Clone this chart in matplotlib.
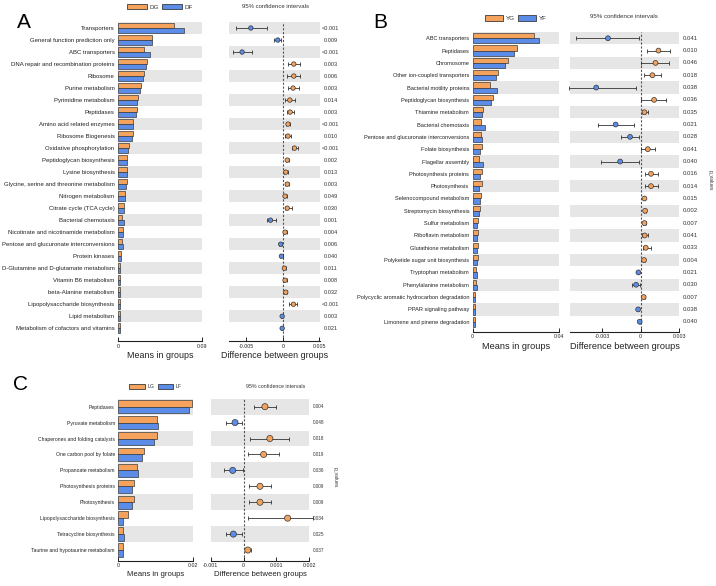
import matplotlib
matplotlib.use("Agg")
import matplotlib.pyplot as plt
import numpy as np
from matplotlib.transforms import blended_transform_factory
from matplotlib.patches import Patch

plt.rcParams['font.family'] = ['Liberation Sans', 'DejaVu Sans']

ORANGE = '#F5A25D'
BLUE = '#5B8DE8'
GRAY = '#E6E6E6'
EDGE = '#3a3a3a'

# ---------------- Panel A ----------------
catsA = ["Transporters", "General function prediction only", "ABC transporters",
         "DNA repair and recombination proteins", "Ribosome", "Purine metabolism",
         "Pyrimidine metabolism", "Peptidases", "Amino acid related enzymes",
         "Ribosome Biogenesis", "Oxidative phosphorylation", "Peptidoglycan biosynthesis",
         "Lysine biosynthesis", "Glycine, serine and threonine metabolism",
         "Nitrogen metabolism", "Citrate cycle (TCA cycle)", "Bacterial chemotaxis",
         "Nicotinate and nicotinamide metabolism", "Pentose and glucuronate interconversions",
         "Protein kinases", "D-Glutamine and D-glutamate metabolism", "Vitamin B6 metabolism",
         "beta-Alanine metabolism", "Lipopolysaccharide biosynthesis", "Lipid metabolism",
         "Metabolism of cofactors and vitamins"]
meanA_DG = [0.0603, 0.0361, 0.0282, 0.0314, 0.0279, 0.0250, 0.0214, 0.0207, 0.0164, 0.0164,
            0.0121, 0.0100, 0.0093, 0.0093, 0.0075, 0.0064, 0.0043, 0.0054, 0.0046, 0.0032,
            0.0021, 0.0021, 0.0021, 0.0025, 0.0018, 0.0018]
meanA_DF = [0.0707, 0.0368, 0.0340, 0.0300, 0.0265, 0.0236, 0.0207, 0.0196, 0.0157, 0.0154,
            0.0110, 0.0093, 0.0093, 0.0090, 0.0071, 0.0060, 0.0061, 0.0050, 0.0050, 0.0036,
            0.0021, 0.0021, 0.0021, 0.0018, 0.0018, 0.0018]
diffA = [-0.0044, -0.0007, -0.0056, 0.0015, 0.0015, 0.0014, 0.00095, 0.0010, 0.0007, 0.0007,
         0.0016, 0.0006, 0.0004, 0.0006, 0.0003, 0.0006, -0.0017, 0.0003, -0.0003, -0.0002,
         0.0002, 0.0003, 0.0004, 0.00145, -0.0001, -0.0001]
lowA = [-0.0065, -0.0012, -0.0068, 0.0007, 0.0006, 0.0007, 0.0003, 0.0005, 0.0004, 0.0003,
        0.0012, 0.0004, 0.0001, 0.0003, 0.0001, 0.0003, -0.0022, 0.0001, -0.0005, -0.0004,
        0.0000, 0.0001, 0.0002, 0.0009, -0.0002, -0.0002]
highA = [-0.0022, -0.0003, -0.0043, 0.0023, 0.0024, 0.0022, 0.0017, 0.0015, 0.0010, 0.0011,
         0.0021, 0.0008, 0.0007, 0.0009, 0.0005, 0.0012, -0.0009, 0.0005, -0.0001, 0.0000,
         0.0004, 0.0005, 0.0006, 0.0019, 0.0000, 0.0000]
pA = ["<0.001", "0.009", "<0.001", "0.003", "0.006", "0.003", "0.014", "0.003", "<0.001",
      "0.010", "<0.001", "0.002", "0.013", "0.003", "0.049", "0.030", "0.001", "0.004",
      "0.006", "0.040", "0.011", "0.008", "0.032", "<0.001", "0.003", "0.021"]

# ---------------- Panel B ----------------
catsB = ["ABC transporters", "Peptidases", "Chromosome", "Other ion-coupled transporters",
         "Bacterial motility proteins", "Peptidoglycan biosynthesis", "Thiamine metabolism",
         "Bacterial chemotaxis", "Pentose and glucuronate interconversions", "Folate biosynthesis",
         "Flagellar assembly", "Photosynthesis proteins", "Photosynthesis",
         "Selenocompound metabolism", "Streptomycin biosynthesis", "Sulfur metabolism",
         "Riboflavin metabolism", "Glutathione metabolism", "Polyketide sugar unit biosynthesis",
         "Tryptophan metabolism", "Phenylalanine metabolism",
         "Polycyclic aromatic hydrocarbon degradation", "PPAR signaling pathway",
         "Limonene and pinene degradation"]
meanB_YG = [0.0283, 0.0204, 0.0162, 0.0115, 0.0078, 0.0095, 0.0050, 0.0037, 0.0037, 0.0043,
            0.0031, 0.0042, 0.0042, 0.0037, 0.0034, 0.0026, 0.0024, 0.0024, 0.0024, 0.0015,
            0.0014, 0.0012, 0.0009, 0.0009]
meanB_YF = [0.0308, 0.0190, 0.0151, 0.0106, 0.0112, 0.0084, 0.0045, 0.0059, 0.0045, 0.0034,
            0.0050, 0.0034, 0.0031, 0.0034, 0.0031, 0.0022, 0.0021, 0.0020, 0.0021, 0.0019,
            0.0019, 0.0009, 0.0010, 0.0009]
diffB = [-0.00255, 0.00138, 0.00115, 0.00091, -0.00346, 0.00104, 0.00029, -0.00195, -0.00083,
         0.00055, -0.0016, 0.0008, 0.0008, 0.00029, 0.00034, 0.00029, 0.00031, 0.00039, 0.00026,
         -0.00018, -0.00036, 0.00023, -0.0002, -0.00008]
lowB = [-0.0050, 0.0005, 0.00003, 0.00026, -0.0056, 0.00005, 0.0001, -0.0033, -0.0015, 0.00005,
        -0.0031, 0.0003, 0.00034, 0.00021, 0.00024, 0.00019, 0.0001, 0.00018, 0.00016, -0.00026,
        -0.00065, 0.00015, -0.00028, -0.00013]
highB = [-0.00013, 0.00227, 0.0022, 0.00154, -0.00034, 0.0020, 0.0006, -0.00055, -0.00013, 0.0011,
         -0.00013, 0.00135, 0.00135, 0.00037, 0.00044, 0.00039, 0.0006, 0.00083, 0.00036, -0.0001,
         -0.00002, 0.00031, -0.00012, -0.00003]
pB = ["0.041", "0.010", "0.046", "0.018", "0.038", "0.036", "0.035", "0.021", "0.028", "0.041",
      "0.040", "0.016", "0.014", "0.015", "0.002", "0.007", "0.041", "0.033", "0.004", "0.021",
      "0.030", "0.007", "0.038", "0.040"]

# ---------------- Panel C ----------------
catsC = ["Peptidases", "Pyruvate metabolism", "Chaperones and folding catalysts",
         "One carbon pool by folate", "Propanoate metabolism", "Photosynthesis proteins",
         "Photosynthesis", "Lipopolysaccharide biosynthesis", "Tetracycline biosynthesis",
         "Taurine and hypotaurine metabolism"]
meanC_LG = [0.0197, 0.0103, 0.0104, 0.0070, 0.0051, 0.0042, 0.0042, 0.0027, 0.0013, 0.0013]
meanC_LF = [0.0191, 0.0107, 0.0096, 0.0065, 0.0054, 0.0038, 0.0038, 0.0013, 0.0016, 0.0012]
diffC = [0.00065, -0.00026, 0.0008, 0.00061, -0.00033, 0.0005, 0.0005, 0.00134, -0.00031, 0.00013]
lowC = [0.00032, -0.00054, 0.0002, 0.00015, -0.00061, 0.00018, 0.00018, 0.00015, -0.00054, 0.00007]
highC = [0.0010, -0.00004, 0.00139, 0.00108, -0.00003, 0.00083, 0.00083, 0.0021, -0.00006, 0.00023]
pC = ["0.004", "0.048", "0.018", "0.019", "0.036", "0.009", "0.009", "0.034", "0.025", "0.037"]

W, H = 716, 586
fig = plt.figure(figsize=(W / 100, H / 100), dpi=100)


def rect(x0, y0, x1, y1):
    return [x0 / W, 1 - y1 / H, (x1 - x0) / W, (y1 - y0) / H]


def style_axis(ax, n, ybottom, fs_tick):
    ax.set_ylim(ybottom, -0.5)
    for s in ['left', 'right', 'top']:
        ax.spines[s].set_visible(False)
    ax.spines['bottom'].set_linewidth(0.8)
    ax.spines['bottom'].set_color('#222222')
    ax.tick_params(axis='x', direction='in', length=3, width=0.7, labelsize=fs_tick, pad=2,
                   colors='#222222')
    for i in range(0, n, 2):
        ax.axhspan(i - 0.5, i + 0.5, color=GRAY, zorder=0, lw=0)


def panel(letter, letter_xy, cats, g1, g2, names, diff, lo, hi, pv,
          bar_px, diff_px, ybottom, xmax_bar, bar_ticks, bar_ticklabels,
          dlim, dticks, dticklabels, fs_cat, fs_p, fs_ci, fs_xl, fs_leg, ms,
          p_x, ci_x, leg_y, ci_y, pval_label_xy, leg_handle):
    n = len(cats)
    y = np.arange(n)
    axb = fig.add_axes(rect(*bar_px))
    axd = fig.add_axes(rect(*diff_px))
    style_axis(axb, n, ybottom, 3.8)
    style_axis(axd, n, ybottom, 3.8)

    h = 0.42
    axb.barh(y - h / 2, g1, height=h, color=ORANGE, edgecolor=EDGE, linewidth=0.5, zorder=2)
    axb.barh(y + h / 2, g2, height=h, color=BLUE, edgecolor=EDGE, linewidth=0.5, zorder=2)
    axb.set_xlim(0, xmax_bar)
    axb.set_xticks(bar_ticks)
    axb.set_xticklabels(bar_ticklabels)
    axb.set_yticks(y)
    axb.set_yticklabels(cats, fontsize=fs_cat, color='#222222')
    axb.tick_params(axis='y', length=0, pad=2.5)
    axb.set_xlabel("Means in groups", fontsize=fs_xl, labelpad=1.5, color='#222222')

    d = np.array(diff)
    axd.axvline(0, color='#555555', lw=0.8, ls=(0, (2, 1.5)), zorder=1)
    axd.errorbar(d, y, xerr=[d - np.array(lo), np.array(hi) - d], fmt='none',
                 ecolor='#333333', elinewidth=0.6, capsize=1.2, capthick=0.6, zorder=3,
                 clip_on=False)
    cols = [ORANGE if v > 0 else BLUE for v in d]
    axd.scatter(d, y, s=ms ** 2, c=cols, edgecolors='#333333', linewidths=0.5, zorder=4,
                clip_on=False)
    axd.set_xlim(*dlim)
    axd.set_xticks(dticks)
    axd.set_xticklabels(dticklabels)
    axd.set_yticks([])
    axd.set_xlabel("Difference between groups", fontsize=fs_xl, labelpad=1.5, color='#222222')

    tr = blended_transform_factory(axd.transAxes, axd.transData)
    for i, p in enumerate(pv):
        axd.text(p_x, i, p, transform=tr, ha='center', va='center', fontsize=fs_p,
                 color='#333333')

    fig.text(ci_x / W, 1 - ci_y / H, "95% confidence intervals", ha='center', va='center',
             fontsize=fs_ci, color='#333333')
    fig.text(letter_xy[0] / W, 1 - letter_xy[1] / H, letter, ha='left', va='center',
             fontsize=15, color='black')
    if pval_label_xy is not None:
        fig.text(pval_label_xy[0] / W, 1 - pval_label_xy[1] / H, "p_values", rotation=270,
                 ha='center', va='center', fontsize=3.6, color='#333333')

    handles = [Patch(facecolor=ORANGE, edgecolor=EDGE, linewidth=0.6, label=names[0]),
               Patch(facecolor=BLUE, edgecolor=EDGE, linewidth=0.6, label=names[1])]
    cx = (bar_px[0] + bar_px[2]) / 2
    fig.legend(handles=handles, loc='center', bbox_to_anchor=(cx / W, 1 - leg_y / H),
               ncol=2, frameon=False, fontsize=fs_leg, handlelength=leg_handle[0],
               handleheight=leg_handle[1], handletextpad=0.4, columnspacing=0.6,
               labelcolor='#333333', borderpad=0)


panel("A", (17, 22), catsA, meanA_DG, meanA_DF, ("DG", "DF"), diffA, lowA, highA, pA,
      bar_px=(118, 22, 202, 341), diff_px=(229, 22, 320, 341), ybottom=26.06,
      xmax_bar=0.09, bar_ticks=[0, 0.09], bar_ticklabels=["0", "0.09"],
      dlim=(-0.0074, 0.0051), dticks=[-0.005, 0, 0.005], dticklabels=["-0.005", "0", "0.005"],
      fs_cat=4.3, fs_p=4.1, fs_ci=4.3, fs_xl=6.4, fs_leg=4.5, ms=3.2,
      p_x=1.12, ci_x=276, leg_y=7, ci_y=7, pval_label_xy=None, leg_handle=(3.2, 0.9))

panel("B", (373, 23), catsB, meanB_YG, meanB_YF, ("YG", "YF"), diffB, lowB, highB, pB,
      bar_px=(472.7, 32.1, 559, 331.7), diff_px=(570, 32.1, 679.3, 331.7), ybottom=23.81,
      xmax_bar=0.04, bar_ticks=[0, 0.04], bar_ticklabels=["0", "0.04"],
      dlim=(-0.0055, 0.003), dticks=[-0.003, 0, 0.003], dticklabels=["-0.003", "0", "0.003"],
      fs_cat=4.1, fs_p=4.3, fs_ci=4.4, fs_xl=6.6, fs_leg=4.5, ms=3.5,
      p_x=1.098, ci_x=624, leg_y=18.3, ci_y=17, pval_label_xy=(710, 180), leg_handle=(2.9, 0.9))

panel("C", (13, 384), catsC, meanC_LG, meanC_LF, ("LG", "LF"), diffC, lowC, highC, pC,
      bar_px=(118.3, 398.7, 192.7, 560.7), diff_px=(210.7, 398.7, 309.3, 560.7), ybottom=9.67,
      xmax_bar=0.02, bar_ticks=[0, 0.02], bar_ticklabels=["0", "0.02"],
      dlim=(-0.001, 0.002), dticks=[-0.001, 0, 0.001, 0.002],
      dticklabels=["-0.001", "0", "0.001", "0.002"],
      fs_cat=3.7, fs_p=3.3, fs_ci=3.8, fs_xl=5.6, fs_leg=3.8, ms=4.4,
      p_x=1.095, ci_x=276, leg_y=386.7, ci_y=387, pval_label_xy=(335, 477), leg_handle=(3.0, 1.0))

fig.savefig("out.png", dpi=100)
